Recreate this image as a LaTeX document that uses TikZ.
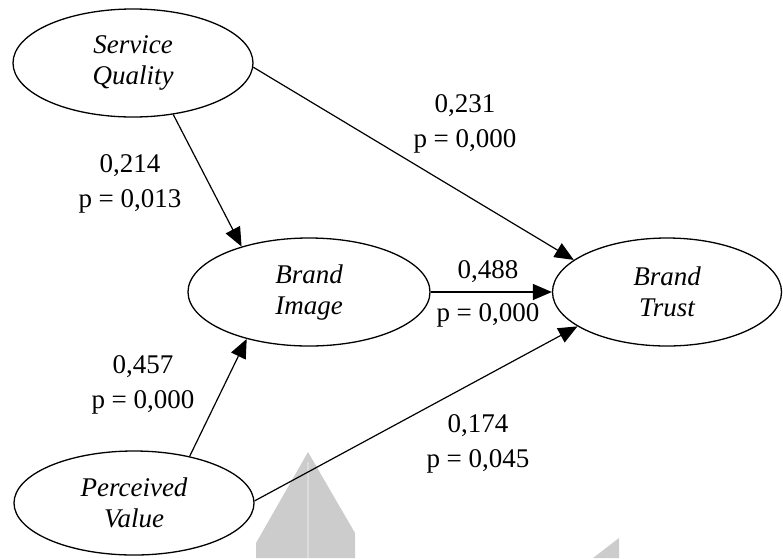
\documentclass[tikz,border=0pt]{standalone}
\usepackage{fontspec}
\setmainfont{Liberation Serif}
\usetikzlibrary{arrows.meta,shapes.geometric}

\begin{document}
\begin{tikzpicture}[x=1pt,y=-1pt,
  latent/.style={ellipse,draw,line width=1.3pt,inner sep=0pt,minimum width=240pt,minimum height=108pt,align=center,font=\fontsize{27}{31}\selectfont\itshape},
  link/.style={-{Triangle[length=19pt,width=16pt]},line width=1.2pt},
  coef/.style={align=center,inner sep=0pt,font=\fontsize{27}{35}\selectfont}]
\useasboundingbox (0,0) rectangle (783,558);
% Watermark remains at the bottom
\fill[gray!40] (308,452) -- (256,543) -- (256,558) -- (355,558) -- (355,533) -- cycle;
\draw[gray!28,line width=2pt] (308,462) -- (308,558);
\fill[gray!40] (619,538) -- (619,558) -- (593,558) -- cycle;
% Constructs
\node[latent] (sq) at (133,63) {Service\\Quality};
\node[latent,minimum width=242pt] (bi) at (309,292) {Brand\\Image};
\node[latent,minimum width=229pt] (bt) at (667,292) {Brand\\Trust};
\node[latent,minimum height=104pt] (pv) at (134,503) {Perceived\\Value};
% Paths
\draw[link] (sq.-2) -- (bt.161);
\draw[link] (sq.-52) -- (bi.146);
\draw[link] (bi.east) -- (bt.west);
\draw[link] (pv.40) -- (bi.217);
\draw[link] (pv.1) -- (bt.201);
% Coefficients
\node[coef] (c1) at (465,124) {0,231\\p = 0,000};
\node[coef] (c2) at (130,184) {0,214\\p = 0,013};
\node[coef] (c3) at (488,294) {0,488\\[8pt]p = 0,000};
\node[coef] (c4) at (143,385) {0,457\\p = 0,000};
\node[coef] (c5) at (478,444) {0,174\\p = 0,045};
\end{tikzpicture}
\end{document}
